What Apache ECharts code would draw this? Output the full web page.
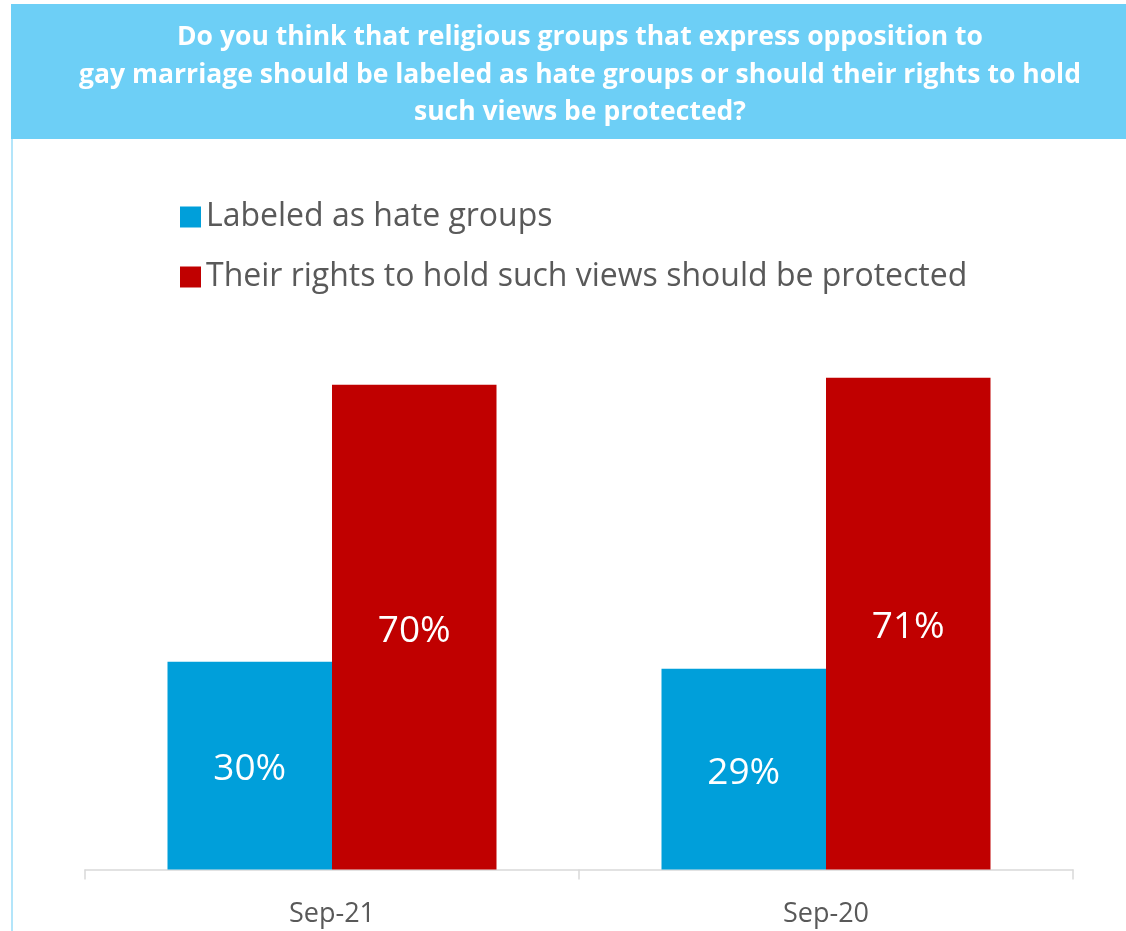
<!DOCTYPE html>
<html>
<head>
<meta charset="utf-8">
<script src="https://cdn.jsdelivr.net/npm/echarts@6/dist/echarts.min.js"></script>
<style>
html,body{margin:0;padding:0;background:#fff;}
#main{width:1126px;height:931px;}
</style>
</head>
<body>
<div id="main"></div>
<script>
const categories = ['Sep-21', 'Sep-20'];
const seriesNames = ['Labeled as hate groups', 'Their rights to hold such views should be protected'];
const hateGroups = [30, 29];
const protectedRights = [70, 71];
const titleText = 'Do you think that religious groups that express opposition to\ngay marriage should be labeled as hate groups or should their rights to hold\nsuch views be protected?';

const FONT = '"Open Sans", "Noto Sans", sans-serif';
const chart = echarts.init(document.getElementById('main'), null, {renderer: 'canvas'});
chart.setOption({
  backgroundColor: '#ffffff',
  animation: false,
  graphic: [
    {type: 'rect', shape: {x: 11, y: 4, width: 1115, height: 135}, style: {fill: '#6dcff6'}, z: 0},
    {type: 'rect', shape: {x: 11, y: 139, width: 2, height: 792}, style: {fill: '#b3e5fa'}, z: 0}
  ],
  title: {
    text: titleText,
    left: 575,
    top: 14,
    textAlign: 'center',
    textStyle: {color: '#ffffff', fontFamily: FONT, fontWeight: 'bold', fontSize: 26.5, lineHeight: 37.5}
  },
  legend: {
    orient: 'vertical',
    left: 175,
    top: 196,
    itemWidth: 21,
    itemHeight: 21,
    itemGap: 28,
    icon: 'rect',
    textStyle: {color: '#595959', fontFamily: FONT, fontSize: 32, padding: [0, 0, 0, 0]},
    data: seriesNames
  },
  grid: {left: 85, right: 53, top: 177, bottom: 61.5, containLabel: false},
  xAxis: {
    type: 'category',
    data: categories,
    axisLine: {lineStyle: {color: '#d9d9d9', width: 1.5}},
    axisTick: {show: true, length: 10, lineStyle: {color: '#d9d9d9', width: 1.5}},
    axisLabel: {color: '#595959', fontFamily: FONT, fontSize: 27, margin: 31}
  },
  yAxis: {
    type: 'value',
    min: 0,
    max: 100,
    show: false,
    splitLine: {show: false}
  },
  series: [
    {
      name: seriesNames[0],
      type: 'bar',
      data: hateGroups,
      barWidth: 164.5,
      barGap: '0%',
      itemStyle: {color: '#009fda'},
      label: {show: true, position: 'inside', offset: [0, 4], formatter: '{c}%', color: '#ffffff', fontFamily: FONT, fontSize: 37}
    },
    {
      name: seriesNames[1],
      type: 'bar',
      data: protectedRights,
      barWidth: 164.5,
      barGap: '0%',
      itemStyle: {color: '#c00000'},
      label: {show: true, position: 'inside', offset: [0, 4], formatter: '{c}%', color: '#ffffff', fontFamily: FONT, fontSize: 37}
    }
  ]
});
</script>
</body>
</html>
